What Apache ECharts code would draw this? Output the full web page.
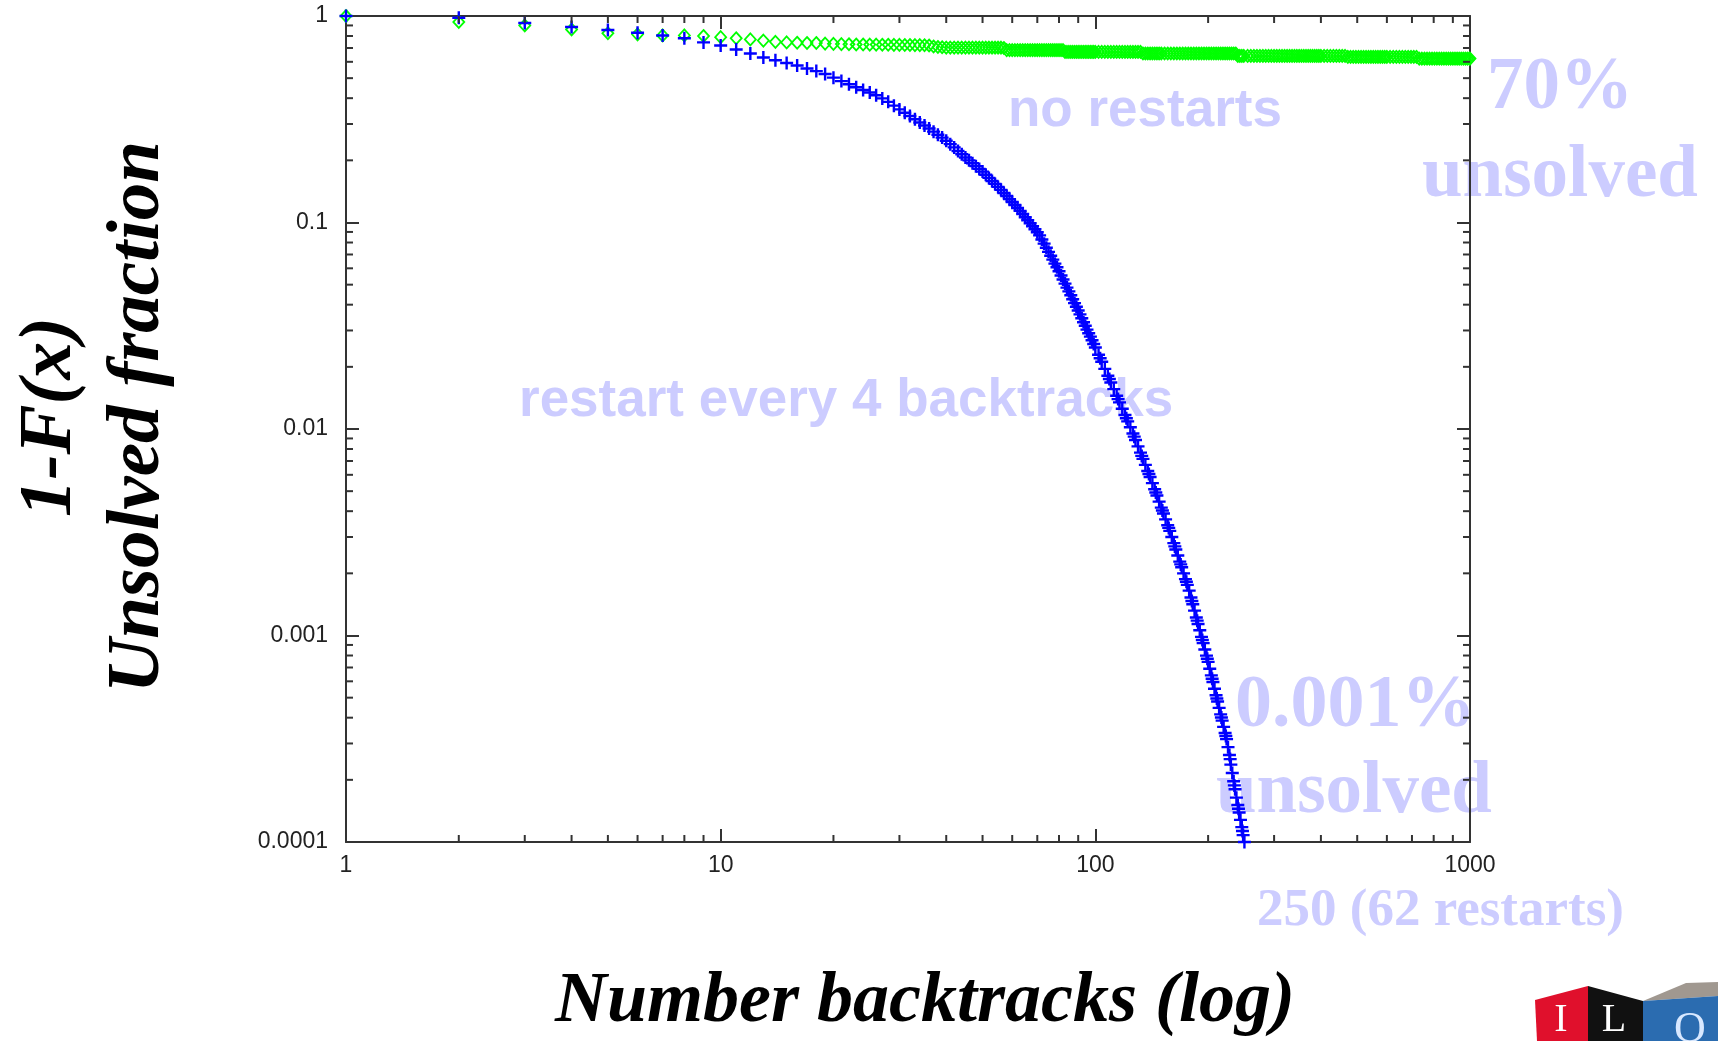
<!DOCTYPE html>
<html>
<head>
<meta charset="utf-8">
<script src="https://cdn.jsdelivr.net/npm/echarts@6/dist/echarts.min.js"></script>
<style>
html,body{margin:0;padding:0;background:#ffffff;}
#chart{width:1718px;height:1041px;}
</style>
</head>
<body>
<div id="chart"></div>
<script>
// ---------------- DATA ----------------
// x = number of backtracks, y = unsolved fraction 1-F(x)
const noRestarts = [
  [1,1.0],[2,0.935],[3,0.90],[4,0.86],[5,0.825],[6,0.815],[7,0.805],[8,0.805],[9,0.80],[10,0.79],
  [11,0.78],[12,0.77],[13,0.76],[14,0.75],[15,0.745],[16,0.742],[17,0.74],[18,0.74],[19,0.735],[20,0.733],
  [21,0.731],[22,0.73],[23,0.728],[24,0.728],[25,0.727],[26,0.727],[27,0.726],[28,0.726],[29,0.725],[30,0.725],
  [31,0.724],[32,0.724],[33,0.723],[34,0.723],[35,0.722],[36,0.72],[37,0.712],[38,0.708],[39,0.706],[40,0.703],
  [41,0.703],[42,0.703],[43,0.703],[44,0.703],[45,0.703],[46,0.703],[47,0.703],[48,0.703],[49,0.703],[50,0.703],
  [51,0.703],[52,0.703],[53,0.703],[54,0.703],[55,0.703],[56,0.703],[57,0.70],[58,0.684],[59,0.684],[60,0.684],
  [61,0.684],[62,0.684],[63,0.684],[64,0.684],[65,0.684],[66,0.684],[67,0.684],[68,0.684],[69,0.684],[70,0.684],
  [71,0.684],[72,0.684],[73,0.684],[74,0.684],[75,0.684],[76,0.684],[77,0.684],[78,0.684],[79,0.684],[80,0.684],
  [81,0.684],[82,0.684],[83,0.67],[84,0.67],[85,0.67],[86,0.67],[87,0.67],[88,0.67],[89,0.67],[90,0.67],
  [91,0.67],[92,0.67],[93,0.67],[94,0.67],[95,0.67],[96,0.67],[97,0.67],[98,0.67],[99,0.67],[100,0.67],
  [102,0.67],[104,0.67],[106,0.67],[108,0.67],[110,0.67],[112,0.67],[114,0.67],[116,0.67],[118,0.67],[120,0.67],
  [122,0.67],[124,0.67],[126,0.67],[128,0.67],[130,0.67],[132,0.67],[134,0.658],[136,0.658],[138,0.658],[140,0.658],
  [142,0.658],[144,0.658],[146,0.658],[148,0.658],[150,0.658],[153,0.658],[156,0.658],[159,0.658],[162,0.658],[165,0.658],
  [168,0.658],[171,0.658],[174,0.658],[177,0.658],[180,0.658],[183,0.658],[186,0.658],[189,0.658],[192,0.658],[195,0.658],
  [198,0.658],[201,0.658],[204,0.658],[207,0.658],[210,0.658],[213,0.658],[216,0.658],[219,0.658],[222,0.658],[225,0.658],
  [228,0.658],[231,0.658],[234,0.658],[237,0.658],[240,0.641],[243,0.641],[246,0.641],[249,0.641],[255,0.641],[260,0.641],
  [265,0.641],[270,0.641],[275,0.641],[280,0.641],[285,0.641],[290,0.641],[295,0.641],[300,0.641],[305,0.641],[310,0.641],
  [315,0.641],[320,0.641],[325,0.641],[330,0.641],[335,0.641],[340,0.641],[345,0.641],[350,0.641],[355,0.641],[360,0.641],
  [365,0.641],[370,0.641],[375,0.641],[380,0.641],[385,0.641],[390,0.641],[395,0.641],[400,0.641],[408,0.641],[416,0.641],
  [424,0.641],[432,0.641],[440,0.641],[448,0.641],[456,0.641],[464,0.641],[472,0.634],[480,0.634],[488,0.634],[496,0.634],
  [504,0.634],[512,0.634],[520,0.634],[528,0.634],[536,0.634],[544,0.634],[552,0.634],[560,0.634],[568,0.634],[576,0.634],
  [584,0.634],[592,0.634],[600,0.634],[612,0.634],[624,0.634],[636,0.634],[648,0.634],[660,0.634],[672,0.634],[684,0.634],
  [696,0.634],[708,0.634],[720,0.634],[732,0.622],[744,0.622],[756,0.622],[768,0.622],[780,0.622],[792,0.622],[804,0.622],
  [816,0.622],[828,0.622],[840,0.622],[852,0.622],[864,0.622],[876,0.622],[888,0.622],[900,0.622],[912,0.622],[924,0.622],
  [936,0.622],[948,0.622],[960,0.622],[972,0.622],[984,0.622],[996,0.622],[1000,0.622]
];

const restartEvery4 = [
  [1,1.0],[2,0.98],[3,0.925],[4,0.885],[5,0.855],[6,0.83],[7,0.805],[8,0.78],[9,0.745],[10,0.72],
  [11,0.688],[12,0.658],[13,0.63],[14,0.611],[15,0.592],[16,0.576],[17,0.557],[18,0.541],[19,0.524],[20,0.503],
  [21,0.484],[22,0.467],[23,0.452],[24,0.438],[25,0.426],[26,0.413],[27,0.399],[28,0.384],[29,0.368],[30,0.353],
  [31,0.340],[32,0.328],[33,0.3164],[34,0.305],[35,0.2951],[36,0.285],[37,0.2754],[38,0.266],[39,0.2577],[40,0.249],
  [41,0.2396],[42,0.231],[43,0.222],[44,0.214],[45,0.2066],[46,0.200],[47,0.1935],[48,0.1875],[49,0.1818],[50,0.1764],
  [51,0.1702],[52,0.1644],[53,0.1589],[54,0.1538],[55,0.1487],[56,0.1439],[57,0.139],[58,0.1343],[59,0.1298],[60,0.1256],
  [61,0.1215],[62,0.1175],[63,0.1139],[64,0.1099],[65,0.1061],[66,0.1026],[67,0.0991],[68,0.0959],[69,0.0927],[70,0.0897],
  [71,0.0866],[72,0.0828],[73,0.079],[74,0.0755],[75,0.0721],[76,0.069],[77,0.0661],[78,0.0632],[79,0.0607],[80,0.0581],
  [81,0.0554],[82,0.053],[83,0.0506],[84,0.0484],[85,0.0464],[86,0.0444],[87,0.0425],[88,0.0407],[89,0.0391],[90,0.0375],
  [91,0.0359],[92,0.0344],[93,0.0329],[94,0.0316],[95,0.0303],[96,0.0291],[97,0.028],[98,0.0269],[99,0.0258],[100,0.0248],
  [102,0.02289],[103,0.0220],[104,0.02115],[106,0.01954],[108,0.01811],[109,0.01746],[110,0.0168],[112,0.0156],[114,0.01449],[115,0.01396],
  [116,0.01346],[118,0.01253],[120,0.01168],[121,0.01127],[122,0.01089],[124,0.01019],[126,0.00951],[127,0.00918],[128,0.00885],[130,0.00824],
  [132,0.00768],[133,0.00741],[134,0.00717],[136,0.0067],[138,0.00626],[139,0.00605],[140,0.00586],[142,0.00547],[144,0.00511],[145,0.00493],
  [146,0.00476],[148,0.00445],[150,0.00416],[151,0.00403],[152,0.0039],[154,0.00365],[156,0.00342],[157,0.00332],[158,0.00321],[160,0.0030],
  [162,0.0028],[163,0.0027],[164,0.00261],[166,0.00244],[168,0.00228],[169,0.00221],[170,0.00214],[172,0.0020],[174,0.001876],[175,0.00182],
  [176,0.001759],[178,0.00165],[180,0.001528],[181,0.00147],[182,0.001416],[184,0.00132],[186,0.001223],[187,0.00118],[188,0.001136],[190,0.00106],
  [192,0.000985],[193,0.000951],[194,0.000918],[196,0.000855],[198,0.000799],[199,0.000771],[200,0.000745],[202,0.00069],[204,0.000641],[205,0.000617],
  [206,0.000595],[208,0.000552],[210,0.000514],[211,0.000495],[212,0.000479],[214,0.000446],[216,0.000415],[217,0.000401],[218,0.000387],[220,0.000361],
  [222,0.000337],[223,0.000326],[224,0.000315],[226,0.000288],[228,0.000264],[229,0.000252],[230,0.000237],[232,0.000216],[234,0.000197],[235,0.000188],
  [236,0.00018],[238,0.000164],[240,0.000151],[241,0.000145],[242,0.000139],[244,0.000128],[246,0.000118],[247,0.000113],[248,0.000108],[250,0.0001]
];

// axis tick labels / tick values
const xTickLabels = ['1', '10', '100', '1000'];
const yTickLabels = ['1', '0.1', '0.01', '0.001', '0.0001'];
const minorXTicks = [2,3,4,5,6,7,8,9, 20,30,40,50,60,70,80,90, 200,300,400,500,600,700,800,900];
const minorYTicks = [0.0002,0.0003,0.0004,0.0005,0.0006,0.0007,0.0008,0.0009,
                     0.002,0.003,0.004,0.005,0.006,0.007,0.008,0.009,
                     0.02,0.03,0.04,0.05,0.06,0.07,0.08,0.09,
                     0.2,0.3,0.4,0.5,0.6,0.7,0.8,0.9];

// annotation texts
const SANS = '"Liberation Sans", Arial, sans-serif';
const SERIF = '"Liberation Serif", "Times New Roman", serif';
const annotations = [
  {text: 'no restarts', x: 1008, y: 111, font: 'bold 53px ' + SANS},
  {text: 'restart every 4 backtracks', x: 519, y: 401, font: 'bold 53px ' + SANS},
  {text: '70%', x: 1487, y: 89, font: 'bold 73px ' + SERIF},
  {text: 'unsolved', x: 1422, y: 177, font: 'bold 73px ' + SERIF},
  {text: '0.001%', x: 1235, y: 707, font: 'bold 74px ' + SERIF},
  {text: 'unsolved', x: 1216, y: 793, font: 'bold 73px ' + SERIF},
  {text: '250 (62 restarts)', x: 1257, y: 911, font: 'bold 53px ' + SERIF}
];

// ---------------- STYLE ----------------
const X_MIN = 1, X_MAX = 1000, Y_MIN = 0.0001, Y_MAX = 1;
const AXIS_COLOR = '#333333';
const MAJOR_LEN = 13, MINOR_LEN = 7;
const ANNOT_COLOR = '#ccccff';
const LABEL_FONT = '"Liberation Sans", Arial, Helvetica, sans-serif';
const TITLE_FONT = SERIF;

function fmt(labels) {
  return function (v) {
    const n = +(+v).toPrecision(6);
    for (const l of labels) { if (Math.abs(parseFloat(l) - n) < 1e-12 * Math.max(1, n)) return l; }
    return String(n);
  };
}

function baseAxis() {
  return {
    type: 'log', logBase: 10,
    axisLine: {show: true, onZero: false, lineStyle: {color: AXIS_COLOR, width: 2}},
    axisTick: {show: true, inside: true, length: MAJOR_LEN, lineStyle: {color: AXIS_COLOR, width: 2}},
    splitLine: {show: false},
    minorTick: {show: false},
    minorSplitLine: {show: false}
  };
}

const chart = echarts.init(document.getElementById('chart'), null, {renderer: 'canvas'});

const xMain = Object.assign(baseAxis(), {
  position: 'bottom', min: X_MIN, max: X_MAX,
  axisLabel: {show: true, margin: 12, fontSize: 23, color: '#222', fontFamily: LABEL_FONT, formatter: fmt(xTickLabels)},
  name: 'Number backtracks (log)', nameLocation: 'middle', nameGap: 124, nameMoveOverlap: false,
  nameTextStyle: {fontFamily: TITLE_FONT, fontStyle: 'italic', fontWeight: 'bold', fontSize: 72, color: '#000', padding: [0, 0, 0, 34]}
});
const xTop = Object.assign(baseAxis(), {
  position: 'top', min: X_MIN, max: X_MAX, axisLabel: {show: false}
});
const yMain = Object.assign(baseAxis(), {
  position: 'left', min: Y_MIN, max: Y_MAX,
  axisLabel: {show: true, margin: 18, fontSize: 23, color: '#222', fontFamily: LABEL_FONT, formatter: fmt(yTickLabels)},
  name: '1-F(x)\nUnsolved fraction', nameLocation: 'middle', nameRotate: 90, nameGap: 163, nameMoveOverlap: false,
  nameTextStyle: {fontFamily: TITLE_FONT, fontStyle: 'italic', fontWeight: 'bold', fontSize: 75, lineHeight: 88, color: '#000', align: 'center', padding: [0, 0, 0, 24]}
});
const yRight = Object.assign(baseAxis(), {
  position: 'right', min: Y_MIN, max: Y_MAX, axisLabel: {show: false}
});

function minorTickXRender(params, api) {
  const v = api.value(0);
  const b = api.coord([v, Y_MIN]);
  const t = api.coord([v, Y_MAX]);
  const st = {stroke: AXIS_COLOR, lineWidth: 2};
  return {type: 'group', children: [
    {type: 'line', shape: {x1: b[0], y1: b[1], x2: b[0], y2: b[1] - MINOR_LEN}, style: st},
    {type: 'line', shape: {x1: t[0], y1: t[1], x2: t[0], y2: t[1] + MINOR_LEN}, style: st}
  ]};
}
function minorTickYRender(params, api) {
  const v = api.value(1);
  const l = api.coord([X_MIN, v]);
  const r = api.coord([X_MAX, v]);
  const st = {stroke: AXIS_COLOR, lineWidth: 2};
  return {type: 'group', children: [
    {type: 'line', shape: {x1: l[0], y1: l[1], x2: l[0] + MINOR_LEN, y2: l[1]}, style: st},
    {type: 'line', shape: {x1: r[0], y1: r[1], x2: r[0] - MINOR_LEN, y2: r[1]}, style: st}
  ]};
}

const graphicEls = annotations.map(a => ({
  type: 'text', x: a.x, y: a.y, z: 0, silent: true,
  style: {text: a.text, font: a.font, fill: ANNOT_COLOR, align: 'left', verticalAlign: 'middle'}
}));
// ILOG logo (bottom-right corner, partially cut by the edge)
graphicEls.push(
  {type: 'polygon', z: 0, silent: true, shape: {points: [[1535,1000],[1588,986],[1588,1041],[1537,1041]]}, style: {fill: '#e0102c'}},
  {type: 'polygon', z: 0, silent: true, shape: {points: [[1588,986],[1643,1001],[1643,1041],[1588,1041]]}, style: {fill: '#111111'}},
  {type: 'polygon', z: 0, silent: true, shape: {points: [[1643,1001],[1686,983],[1718,982],[1718,996]]}, style: {fill: '#a09890'}},
  {type: 'polygon', z: 0, silent: true, shape: {points: [[1643,1001],[1718,996],[1718,1041],[1643,1041]]}, style: {fill: '#2b6cb0'}},
  {type: 'text', z: 1, silent: true, x: 1561, y: 1020, style: {text: 'I', font: '40px "Liberation Serif", serif', fill: '#ffffff', align: 'center', verticalAlign: 'middle'}},
  {type: 'text', z: 1, silent: true, x: 1614, y: 1020, style: {text: 'L', font: '40px "Liberation Serif", serif', fill: '#ffffff', align: 'center', verticalAlign: 'middle'}},
  {type: 'text', z: 1, silent: true, x: 1690, y: 1030, style: {text: 'O', font: '44px "Liberation Serif", serif', fill: '#d8e8ff', align: 'center', verticalAlign: 'middle'}}
);

chart.setOption({
  animation: false,
  backgroundColor: '#ffffff',
  grid: {left: 346, right: 248, top: 16, bottom: 199, containLabel: false, outerBoundsMode: 'none'},
  xAxis: [xMain, xTop],
  yAxis: [yMain, yRight],
  graphic: graphicEls,
  series: [
    {
      name: 'no restarts', type: 'scatter', xAxisIndex: 0, yAxisIndex: 0,
      data: noRestarts, symbol: 'diamond', symbolSize: [11, 12], z: 2,
      itemStyle: {color: 'rgba(0,0,0,0)', borderColor: '#00ff00', borderWidth: 1.8, opacity: 1},
      emphasis: {disabled: true}, silent: true, clip: false, progressive: 0, large: false
    },
    {
      name: 'restart every 4 backtracks', type: 'scatter', xAxisIndex: 0, yAxisIndex: 0,
      data: restartEvery4, symbol: 'path://M0,6L12,6M6,0L6,12', symbolSize: 13, z: 3,
      itemStyle: {color: 'rgba(0,0,0,0)', borderColor: '#0000ff', borderWidth: 2.4, opacity: 1},
      emphasis: {disabled: true}, silent: true, clip: false, progressive: 0, large: false
    },
    {
      type: 'custom', xAxisIndex: 0, yAxisIndex: 0, renderItem: minorTickXRender,
      data: minorXTicks.map(v => [v, Y_MAX]), silent: true, clip: false, z: 4
    },
    {
      type: 'custom', xAxisIndex: 0, yAxisIndex: 0, renderItem: minorTickYRender,
      data: minorYTicks.map(v => [X_MIN, v]), silent: true, clip: false, z: 4
    }
  ]
});
</script>
</body>
</html>
